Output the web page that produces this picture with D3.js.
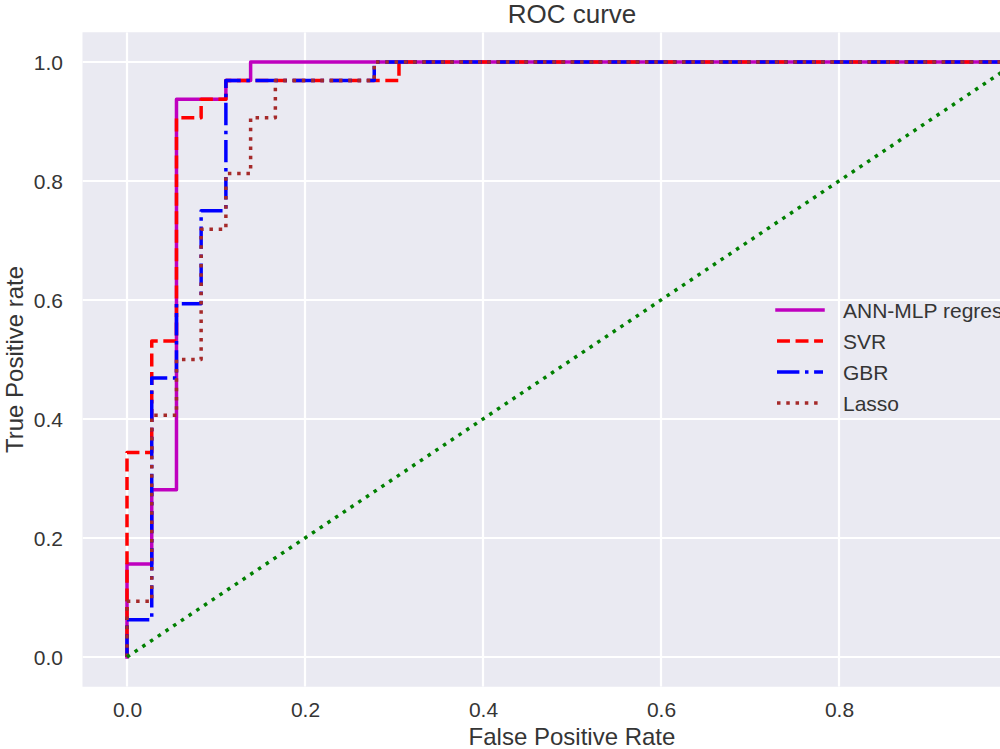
<!DOCTYPE html>
<html>
<head>
<meta charset="utf-8">
<script src="https://cdn.jsdelivr.net/npm/d3@7"></script>
<style>
  html, body { margin: 0; padding: 0; background: #ffffff; overflow: hidden; }
  svg { display: block; font-family: "Liberation Sans", Arial, sans-serif; }
</style>
</head>
<body>
<svg id="chart" width="1000" height="749"></svg>
<script>
// ---- data ----
const seriesNames = ["ANN-MLP regression", "SVR", "GBR", "Lasso"];
const annFpr = [0, 0, 0.0278, 0.0278, 0.0556, 0.0556, 0.1111, 0.1111, 0.1389, 0.1389, 1.0];
const annTpr = [0, 0.1563, 0.1563, 0.2813, 0.2813, 0.9375, 0.9375, 0.9688, 0.9688, 1.0, 1.0];
const svrFpr = [0, 0, 0.0278, 0.0278, 0.0556, 0.0556, 0.0833, 0.0833, 0.1111, 0.1111, 0.3056, 0.3056, 1.0];
const svrTpr = [0, 0.3438, 0.3438, 0.5313, 0.5313, 0.9063, 0.9063, 0.9375, 0.9375, 0.9688, 0.9688, 1.0, 1.0];
const gbrFpr = [0, 0, 0.0278, 0.0278, 0.0556, 0.0556, 0.0833, 0.0833, 0.1111, 0.1111, 0.2778, 0.2778, 1.0];
const gbrTpr = [0, 0.0625, 0.0625, 0.4688, 0.4688, 0.5938, 0.5938, 0.75, 0.75, 0.9688, 0.9688, 1.0, 1.0];
const lassoFpr = [0, 0, 0.0278, 0.0278, 0.0556, 0.0556, 0.0833, 0.0833, 0.1111, 0.1111, 0.1389, 0.1389, 0.1667, 0.1667, 0.2778, 0.2778, 1.0];
const lassoTpr = [0, 0.0938, 0.0938, 0.4063, 0.4063, 0.5, 0.5, 0.7188, 0.7188, 0.8125, 0.8125, 0.9063, 0.9063, 0.9688, 0.9688, 1.0, 1.0];
const chanceFpr = [0, 1];
const chanceTpr = [0, 1];
const xTicks = [0.0, 0.2, 0.4, 0.6, 0.8, 1.0];
const yTicks = [0.0, 0.2, 0.4, 0.6, 0.8, 1.0];
const titleText = "ROC curve";
const xLabelText = "False Positive Rate";
const yLabelText = "True Positive rate";

// ---- layout ----
const svg = d3.select("#chart");
const axL = 82.5, axR = 1061.5, axT = 32.25, axB = 686.75;
const x = d3.scaleLinear().domain([-0.05, 1.05]).range([axL, axR]);
const y = d3.scaleLinear().domain([-0.05, 1.05]).range([axB, axT]);
const lw = 3.5;
const textColor = "#353535";

svg.append("defs").append("clipPath").attr("id", "axclip")
  .append("rect").attr("x", axL).attr("y", axT).attr("width", axR - axL).attr("height", axB - axT);

svg.append("rect").attr("x", axL).attr("y", axT).attr("width", axR - axL).attr("height", axB - axT)
  .attr("fill", "#EAEAF2");

// grid
const grid = svg.append("g").attr("clip-path", "url(#axclip)");
grid.selectAll("line.gx").data(xTicks).enter().append("line")
  .attr("x1", d => x(d)).attr("x2", d => x(d)).attr("y1", axT).attr("y2", axB)
  .attr("stroke", "#ffffff").attr("stroke-width", 2.2);
grid.selectAll("line.gy").data(yTicks).enter().append("line")
  .attr("y1", d => y(d)).attr("y2", d => y(d)).attr("x1", axL).attr("x2", axR)
  .attr("stroke", "#ffffff").attr("stroke-width", 2.2);

// axes via d3 axis generators (no tick marks / domain)
const xAxis = svg.append("g").attr("transform", `translate(0,${axB})`)
  .call(d3.axisBottom(x).tickValues(xTicks).tickFormat(d3.format(".1f")).tickSize(0).tickPadding(0));
xAxis.select(".domain").remove();
xAxis.selectAll("text").attr("y", 0).attr("dy", null)
  .attr("transform", "translate(0,30.5)")
  .attr("font-size", 21).attr("fill", textColor).attr("font-family", "Liberation Sans, Arial, sans-serif");

const yAxis = svg.append("g").attr("transform", `translate(${axL},0)`)
  .call(d3.axisLeft(y).tickValues(yTicks).tickFormat(d3.format(".1f")).tickSize(0).tickPadding(0));
yAxis.select(".domain").remove();
yAxis.selectAll("text").attr("x", -19.5).attr("dy", "0.36em")
  .attr("font-size", 21).attr("fill", textColor).attr("font-family", "Liberation Sans, Arial, sans-serif");

// series
const series = [
  { name: seriesNames[0], fpr: annFpr, tpr: annTpr, color: "#bf00bf", dash: null },
  { name: seriesNames[1], fpr: svrFpr, tpr: svrTpr, color: "#ff0000", dash: [3.7 * lw, 1.6 * lw] },
  { name: seriesNames[2], fpr: gbrFpr, tpr: gbrTpr, color: "#0000ff", dash: [6.4 * lw, 1.6 * lw, 1 * lw, 1.6 * lw] },
  { name: seriesNames[3], fpr: lassoFpr, tpr: lassoTpr, color: "#a52a2a", dash: [1 * lw, 1.65 * lw] }
];
const chance = { fpr: chanceFpr, tpr: chanceTpr, color: "#008000", dash: [1 * lw, 1.65 * lw] };

const line = d3.line().x(d => x(d[0])).y(d => y(d[1]));
const plotG = svg.append("g").attr("clip-path", "url(#axclip)");

function drawSeries(s) {
  const pts = s.fpr.map((f, i) => [f, s.tpr[i]]);
  plotG.append("path").datum(pts).attr("d", line)
    .attr("fill", "none").attr("stroke", s.color).attr("stroke-width", lw)
    .attr("stroke-linejoin", "round")
    .attr("stroke-linecap", s.dash ? "butt" : "square")
    .attr("stroke-dasharray", s.dash ? s.dash.join(" ") : null);
}
series.forEach(drawSeries);
drawSeries(chance);

// legend (no frame)
const legX = 777, legTextX = 843, legY0 = 310, legDy = 31;
const leg = svg.append("g");
series.forEach((s, i) => {
  const yy = legY0 + i * legDy;
  leg.append("line").attr("x1", legX).attr("x2", legX + 46).attr("y1", yy).attr("y2", yy)
    .attr("stroke", s.color).attr("stroke-width", lw)
    .attr("stroke-linecap", s.dash ? "butt" : "square")
    .attr("stroke-dasharray", s.dash ? s.dash.join(" ") : null);
  leg.append("text").attr("x", legTextX).attr("y", yy).attr("dy", "0.36em")
    .attr("font-size", 21).attr("fill", textColor).text(s.name);
});

// title and labels
svg.append("text").attr("x", (axL + axR) / 2).attr("y", 23).attr("text-anchor", "middle")
  .attr("font-size", 26).attr("fill", textColor).text(titleText);
svg.append("text").attr("x", (axL + axR) / 2).attr("y", 744.5).attr("text-anchor", "middle")
  .attr("font-size", 24).attr("fill", textColor).text(xLabelText);
svg.append("text").attr("transform", `translate(23,${(axT + axB) / 2}) rotate(-90)`)
  .attr("text-anchor", "middle").attr("font-size", 24).attr("fill", textColor).text(yLabelText);
</script>
</body>
</html>
